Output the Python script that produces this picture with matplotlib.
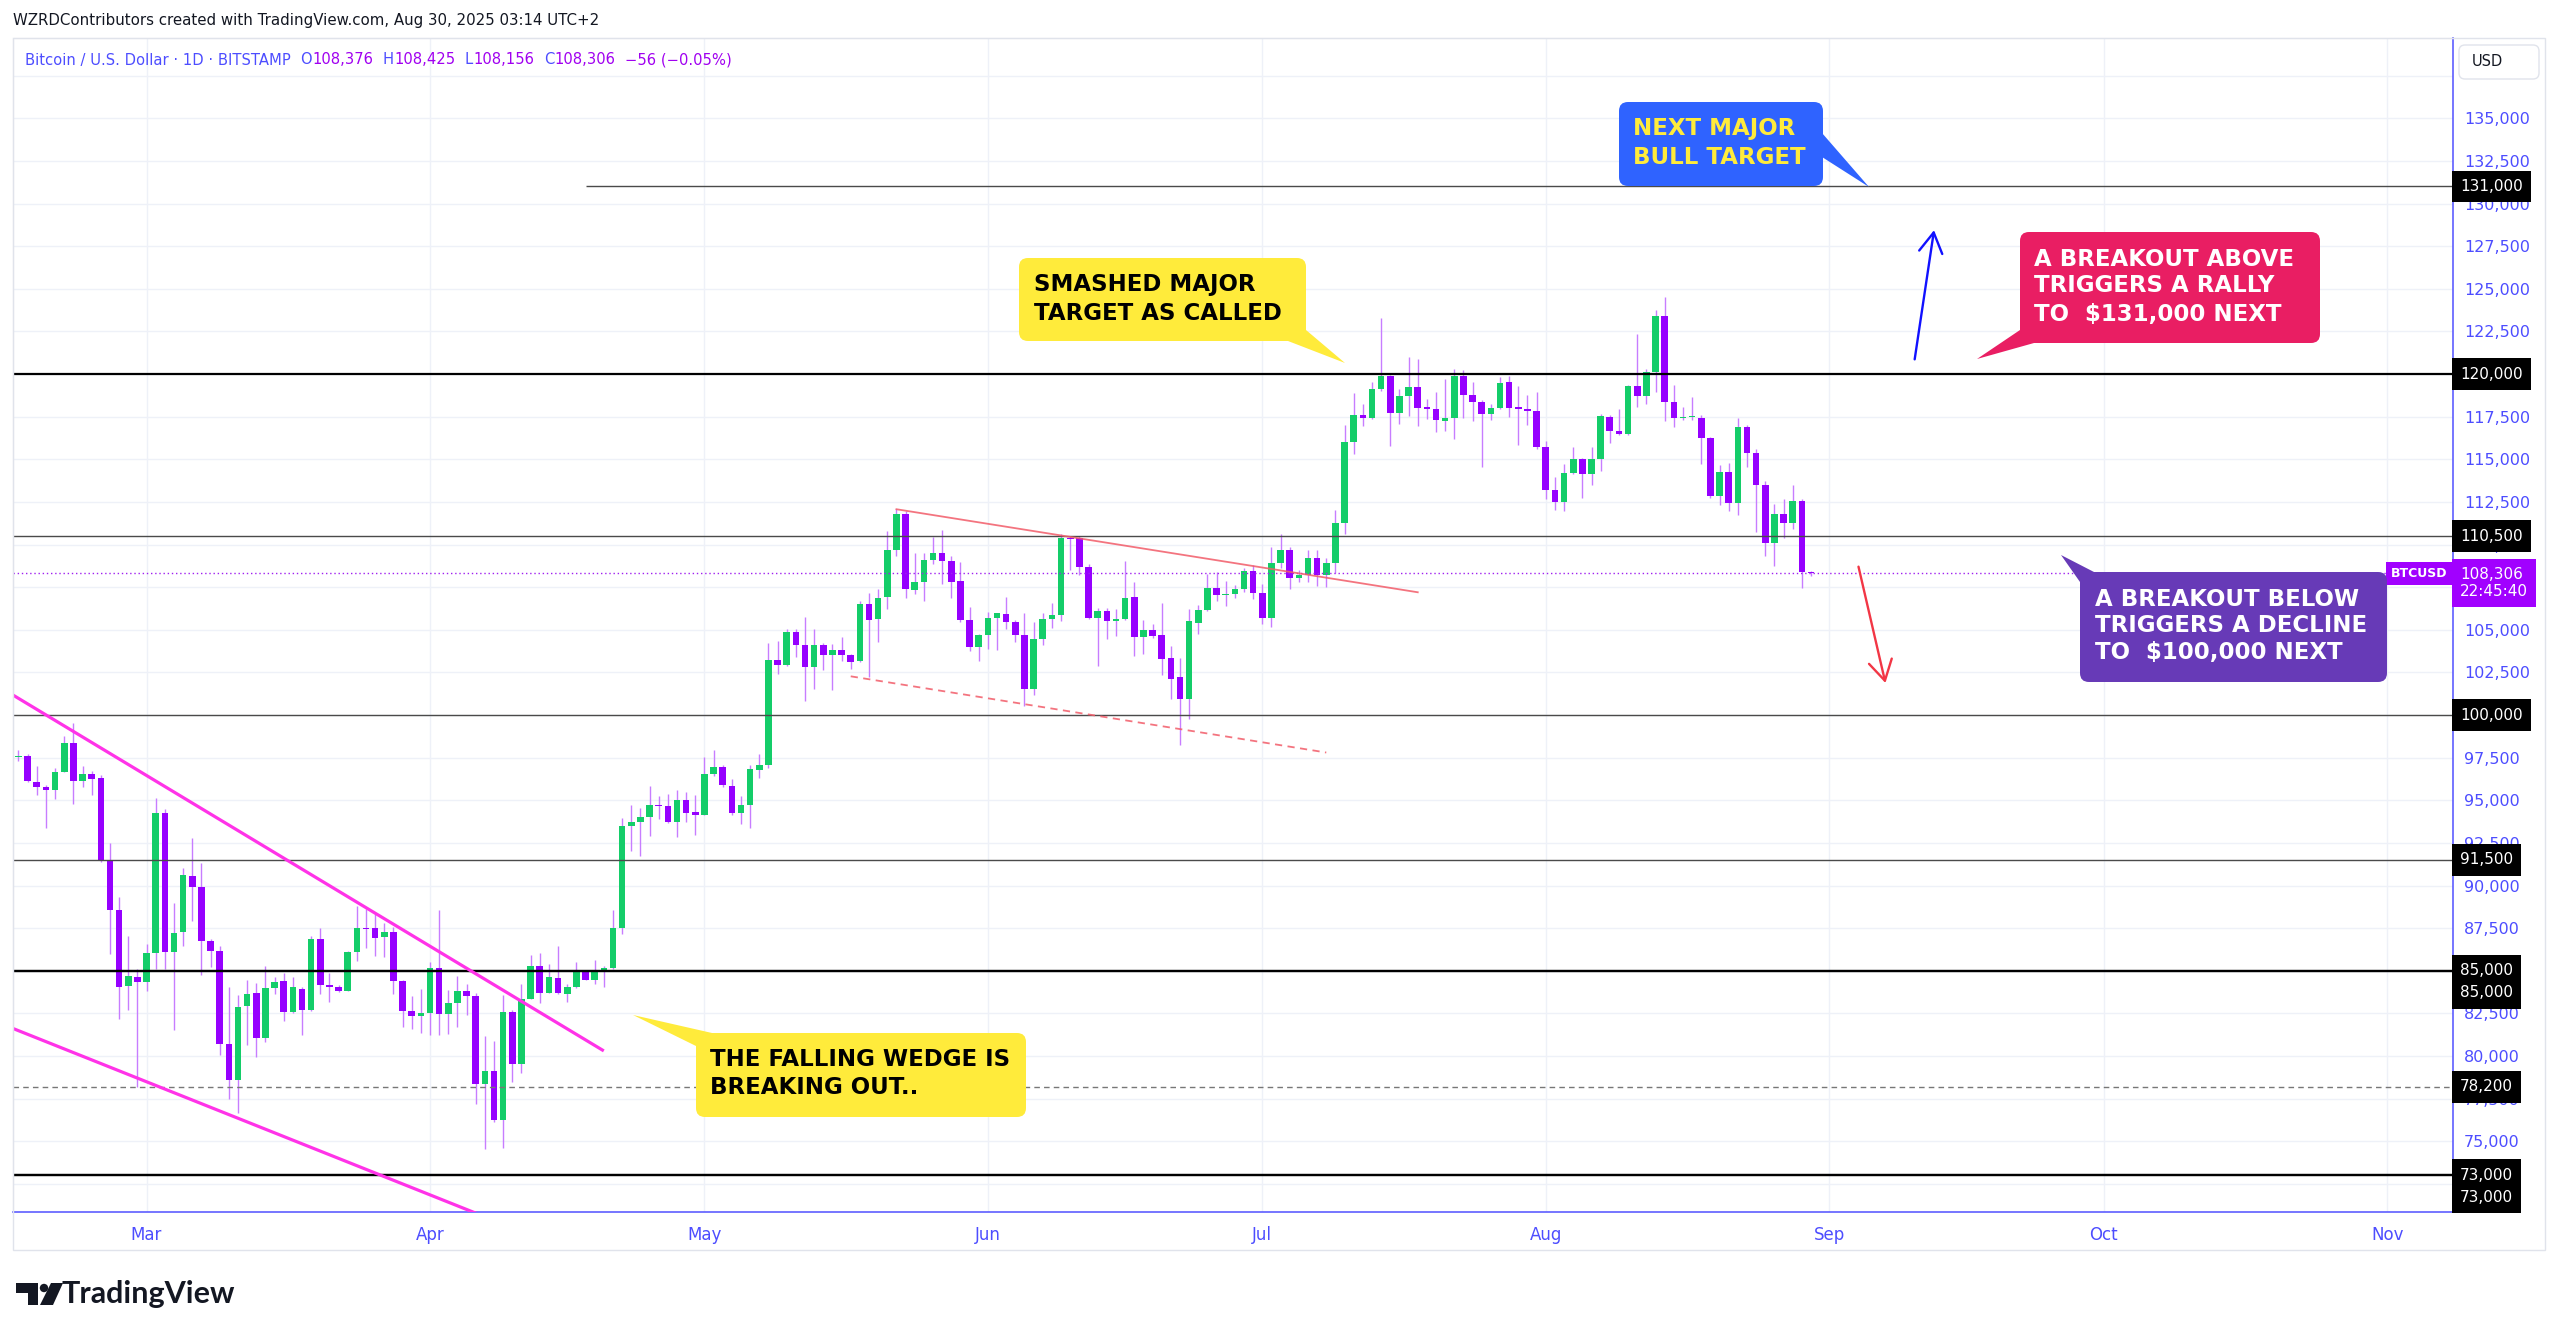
import numpy as np
import pandas as pd
import matplotlib
matplotlib.use("Agg")
import matplotlib.pyplot as plt
import matplotlib.dates as mdates
from matplotlib.patches import FancyBboxPatch, Polygon, Rectangle, Circle

# ---- daily BTCUSD candles, 2025-02-15 .. 2025-08-30 ----
start_date = "2025-02-15"

opens = [
    97520, 97580, 96080, 95790, 95610, 96670, 98360, 96120, 96550, 96300, 91500, 88580, 84130, 84620,
    84330, 86020, 94250, 86120, 87270, 90580, 89940, 86730, 86180, 80720, 78620, 82940, 83680, 81070, 84000, 84390,
    82570, 83940, 82670, 86860, 84190, 84070, 83840, 86080, 87510, 87500, 86960, 87250, 84390, 82630, 82340,
    82520, 85140, 82480, 83130, 83820, 83500, 78370, 79130, 76250, 82590, 79560, 83350, 85250, 83710, 84600,
    83630, 84040, 84900, 84470, 85030, 85180, 87500, 93470, 93730, 94010, 94740, 94660, 93730, 95030, 94310,
    94160, 96540, 96930, 95850, 94270, 94700, 96790, 97040, 103250, 102960, 104860, 104130, 102800, 104130, 103510,
    103800, 103510, 103150, 106540, 105640, 106920, 109700, 111770, 107310, 107820, 109090, 109520, 109030, 107860,
    105600, 104000,
    104680, 105700, 105900, 105450, 104720, 101530, 104430, 105640, 105860, 110360, 110360, 108700, 105700, 106090,
    105500, 105640, 106920, 104560, 104960, 104680, 103350, 102210, 100960, 105410, 106150, 107460, 107030, 107110,
    107370, 108440,
    107170, 105700, 108910, 109700, 108010, 108240, 109220, 108240, 108930, 111280, 116010, 117610, 117420, 119140,
    119860, 117730, 118710, 119260, 118060, 117970, 117220, 117440, 119880, 118790, 118360, 117630, 118010, 119510,
    118060, 117970, 117810,
    115720, 113170, 112490, 114210, 115030, 114110, 115030, 117480, 116680, 116480, 119300, 118710, 120120, 123380,
    118360, 117420, 117460, 117440, 116260, 112840, 114250, 112430, 116890, 115380, 113470, 110100, 111770, 111260,
    112550, 108376,
]
highs = [
    97970, 97720, 97000, 95920, 96900, 98750, 99530, 97000, 96700, 96470, 92510, 89300, 87020, 85110,
    86570, 95150, 94460, 88950, 91050, 92810, 91310, 86860, 86470, 84040, 83590, 84430, 84290, 85300, 84660, 84870,
    84620, 84040, 87060, 87490, 84870, 84170, 86180, 88770, 88620, 88320, 87780, 87540, 84430, 83490, 83940,
    85510, 88540, 83890, 84710, 84210, 83670, 81180, 80860, 83560, 82700, 84250, 85940, 86050, 85400, 86480,
    84250, 85510, 85030, 85620, 85250, 88540, 93940, 94700, 94550, 95850, 95240, 95390, 95630, 95460, 95310,
    97510, 97950, 97080, 96220, 95240, 97080, 97710, 104230, 104370, 105050, 105020, 105740, 105020, 104230, 104190,
    104560, 103550, 106680, 107170, 107410, 110790, 112070, 111970, 109520, 109520, 110460, 110850, 109330, 108990,
    106330, 104760,
    106050, 106010, 106920, 105600, 106000, 105450, 106000, 106580, 110600, 110500, 110500, 108840, 106250, 106290,
    106190, 109030, 107800, 105560, 105310, 106580, 104040, 103350, 106190, 106450, 108290, 108400, 107860, 107600,
    108600, 108800,
    107660, 109850, 110600, 109850, 108480, 109650, 109650, 109200, 112000, 117030, 118900, 118260, 119530, 123290,
    119960, 119140, 121000, 120900, 118550, 118940, 119690, 120310, 120220, 119530, 118460, 118260, 119820, 119880,
    119280, 118790, 118940,
    116070, 113960, 114740, 115720, 115100, 115720, 117670, 117610, 117970, 119340, 122370, 120310, 123740, 124520,
    119370, 118060, 118650, 117570, 116300, 114640, 114800, 117440, 117030, 115620, 113700, 112390, 112690, 113470,
    112690, 108425,
]
lows = [
    97290, 96080, 95280, 93350, 95050, 96630, 94810, 95770, 95280, 91400, 85980, 82180, 82670, 78190,
    83840, 85110, 85110, 81500, 86430, 87890, 84780, 85240, 80040, 77470, 76670, 80630, 79940, 80820, 83650, 82050,
    82520, 81210, 82630, 83650, 83160, 83740, 83800, 85590, 86340, 85890, 85830, 83610, 81700, 81600, 81370,
    81250, 81250, 81290, 81680, 82420, 77180, 74520, 76100, 74630, 78480, 79030, 83350, 83130, 83670, 83630,
    83170, 83990, 84430, 84250, 84040, 85080, 87130, 92000, 91740, 92910, 93900, 93680, 92860, 93730, 92970,
    94160, 96430, 95780, 94160, 93580, 93400, 96300, 96890, 102410, 102900, 103390, 100800, 101530, 102660, 101490,
    103150, 102720, 103120, 102210, 104270, 106190, 109330, 106880, 107070, 106680, 108870, 107660, 106880, 105470,
    103740, 103190,
    103900, 103840, 105020, 104290, 100510, 101200, 104090, 105110, 105500, 108480, 108210, 105660, 102860, 104430,
    104620, 105560, 103450, 103550, 104530, 102330, 100960, 98260, 99780, 104780, 106090, 106680, 106390, 106880,
    107230, 106780,
    105310, 105150, 108640, 107370, 107790, 107790, 107540, 107500, 108340, 110630, 115290, 116950, 117380, 118980,
    115780, 117090, 117540, 116950, 117340, 116600, 116640, 116200, 117420, 117220, 114540, 117280, 117930, 117480,
    115810, 116990, 115580,
    112690, 112000, 111940, 114150, 112720, 113470, 114290, 115970, 116400, 116440, 118060, 118260, 118940, 117220,
    116890, 117320, 117320, 114700, 112740, 112330, 111940, 111710, 114540, 110730, 109300, 108730, 110380, 110890,
    107440, 108156,
]
closes = [
    97560, 96120, 95770, 95610, 96670, 98360, 96120, 96550, 96260, 91500, 88580, 84040, 84680, 84330,
    86020, 94250, 86120, 87230, 90620, 89900, 86730, 86180, 80720, 78580, 82870, 83650, 81070, 84000, 84330, 82570,
    84070, 82710, 86860, 84170, 84040, 83800, 86080, 87510, 87450, 86900, 87250, 84390, 82650, 82340, 82520,
    85140, 82480, 83130, 83820, 83500, 78370, 79130, 76250, 82590, 79560, 83350, 85250, 83710, 84640, 83670,
    84040, 84900, 84470, 85030, 85180, 87500, 93470, 93730, 94010, 94740, 94660, 93730, 95030, 94270, 94160,
    96540, 96930, 95890, 94270, 94740, 96860, 97040, 103250, 102960, 104860, 104130, 102800, 104130, 103510, 103800,
    103510, 103120, 106540, 105600, 106880, 109700, 111770, 107370, 107820, 109090, 109520, 109030, 107800, 105600,
    104000, 104680,
    105700, 105980, 105450, 104720, 101530, 104430, 105640, 105860, 110360, 110300, 108700, 105700, 106090, 105500,
    105640, 106880, 104560, 104960, 104660, 103290, 102140, 100960, 105500, 106150, 107460, 107030, 107110, 107370,
    108440, 107170,
    105700, 108910, 109700, 108010, 108240, 109220, 108240, 108930, 111280, 116010, 117610, 117420, 119140, 119860,
    117730, 118710, 119260, 118020, 117930, 117280, 117440, 119880, 118790, 118360, 117630, 118010, 119470, 118020,
    117930, 117810, 115720,
    113170, 112490, 114210, 115030, 114110, 115030, 117520, 116680, 116480, 119300, 118710, 120120, 123380, 118360,
    117420, 117460, 117500, 116260, 112840, 114250, 112430, 116890, 115380, 113470, 110100, 111770, 111260, 112550,
    108376, 108306,
]

# horizontal levels drawn on the chart (85k and 73k are drawn twice)
level_prices = [131000, 120000, 110500, 100000, 91500, 85000, 85000, 78200, 73000, 73000]
level_kinds = ["thin", "thick", "thin", "thin", "thin", "thick", "thick", "dashed", "thick", "thick"]
level_starts = ["2025-04-18", None, None, None, None, None, None, None, None, None]

# trend drawings: (date, price) endpoints
wedge_upper = [("2025-02-14", 101300), ("2025-04-20", 80300)]
wedge_lower = [("2025-02-14", 81700), ("2025-04-12", 69500)]
channel_top = [("2025-05-22", 112070), ("2025-07-18", 107200)]
channel_bottom = [("2025-05-17", 102270), ("2025-07-08", 97800)]
arrow_up = [("2025-09-10 07:00", 120700), ("2025-09-12 12:00", 128600)]
arrow_down = [("2025-09-04 03:00", 108860), ("2025-09-07 05:00", 101720)]

month_labels = ["Mar", "Apr", "May", "Jun", "Jul", "Aug", "Sep", "Oct", "Nov"]
last_time = "22:45:40"

GREEN = "#14cd69"
PURPLE = "#9600ff"
WICK = "#c77dff"
AXBLUE = "#4d4dff"
GRID = "#eef1f8"

assert len(opens) == len(highs) == len(lows) == len(closes) == 197


def dnum(s):
    return mdates.date2num(pd.Timestamp(s))


W, H = 2560, 1336
fig = plt.figure(figsize=(W / 100, H / 100), dpi=100)
fig.patch.set_facecolor("white")

L_, R_, T_, B_ = 13, 2453, 38, 1212
ax = fig.add_axes([L_ / W, 1 - B_ / H, (R_ - L_) / W, (B_ - T_) / H])
mar1 = dnum("2025-03-01")
ax.set_xlim(mar1 - 14.6, mar1 + 252.2)
ax.set_ylim(70850, 139710)

# grid + axes
yt = np.arange(72500, 137501, 2500)
ax.set_yticks(yt)
ax.set_yticklabels([f"{v:,}" if v <= 135000 else "" for v in yt])
ax.yaxis.tick_right()
months = mdates.date2num(pd.date_range("2025-03-01", periods=len(month_labels), freq="MS"))
ax.set_xticks(months)
ax.set_xticklabels(month_labels)
ax.tick_params(axis="y", length=0, pad=8, labelcolor=AXBLUE, labelsize=11.5)
ax.tick_params(axis="x", length=0, pad=10, labelcolor=AXBLUE, labelsize=12)
ax.grid(True, color=GRID, lw=1.0)
for s in ("left", "top"):
    ax.spines[s].set_color("#e0e3eb")
for s in ("right", "bottom"):
    ax.spines[s].set_color("#5d5dff")
    ax.spines[s].set_linewidth(1.2)

# candles
days = mdates.date2num(pd.date_range(start_date, periods=len(opens), freq="D"))
o, h, l, c = map(np.array, (opens, highs, lows, closes))
up = c >= o
body_lo = np.minimum(o, c)
body_h = np.maximum(np.abs(c - o), 70)
ax.vlines(days, l, h, color=WICK, lw=1.0, zorder=3)
ax.bar(days[up], body_h[up], bottom=body_lo[up], width=0.72, color=GREEN, lw=0, zorder=3.2)
ax.bar(days[~up], body_h[~up], bottom=body_lo[~up], width=0.72, color=PURPLE, lw=0, zorder=3.2)

# levels
x_right = ax.get_xlim()[1]
styles = {
    "thin": dict(color="#4a4a4a", lw=1.0, ls="-"),
    "thick": dict(color="#000000", lw=1.6, ls="-"),
    "dashed": dict(color="#777777", lw=1.0, ls=(0, (4, 3))),
}
prev = None
for price, kind, st in zip(level_prices, level_kinds, level_starts):
    x_start = dnum(st) if st else ax.get_xlim()[0]
    ax.hlines(price, x_start, x_right, zorder=4, **styles[kind])
    dy = -16 if price == prev else 0
    ax.annotate(f"{price:,}", xy=(1, price), xycoords=("axes fraction", "data"),
                xytext=(5, dy), textcoords="offset points", ha="left", va="center",
                fontsize=11, color="white", zorder=6,
                bbox=dict(boxstyle="square,pad=0.55", fc="black", ec="none"))
    prev = price

# current price
last = closes[-1]
ax.axhline(last, color="#a020f0", lw=1.0, ls=(0, (1, 2)), zorder=4)
ax.annotate(f"{last:,}\n{last_time}", xy=(1, last), xycoords=("axes fraction", "data"),
            xytext=(5, -7), textcoords="offset points", ha="left", va="center",
            fontsize=11, color="white", linespacing=1.2, zorder=7,
            bbox=dict(boxstyle="square,pad=0.5", fc="#a100ff", ec="none"))
ax.annotate("BTCUSD", xy=(1, last), xycoords=("axes fraction", "data"),
            xytext=(-4, 0), textcoords="offset points", ha="right", va="center",
            fontsize=9, fontweight="bold", color="white", zorder=7,
            bbox=dict(boxstyle="square,pad=0.4", fc="#a100ff", ec="none"))

# drawings
def seg(pts):
    return [dnum(d) for d, _ in pts], [p for _, p in pts]

for pts in (wedge_upper, wedge_lower):
    xs, ys = seg(pts)
    ax.plot(xs, ys, color="#ff33e8", lw=2.3, zorder=5, solid_capstyle="butt")
xs, ys = seg(channel_top)
ax.plot(xs, ys, color="#f25c69", lw=1.3, alpha=0.85, zorder=5)
xs, ys = seg(channel_bottom)
ax.plot(xs, ys, color="#f25c69", lw=1.3, alpha=0.85, ls=(0, (4, 3)), zorder=5)

for pts, col in ((arrow_up, "#1111ff"), (arrow_down, "#f23645")):
    xs, ys = seg(pts)
    ax.annotate("", xy=(xs[1], ys[1]), xytext=(xs[0], ys[0]),
                arrowprops=dict(arrowstyle="->,head_length=0.6,head_width=0.35",
                                color=col, lw=1.7, mutation_scale=24), zorder=6)

# ---- overlay in pixel coordinates ----
ov = fig.add_axes([0, 0, 1, 1], zorder=10)
ov.set_xlim(0, W)
ov.set_ylim(H, 0)
ov.set_axis_off()

ov.add_patch(Rectangle((13, 38), 2545 - 13, 1250 - 38, fill=False, ec="#e0e3eb", lw=1))
ov.text(13, 20, "WZRDContributors created with TradingView.com, Aug 30, 2025 03:14 UTC+2",
        fontsize=10.8, color="#131722", va="center", ha="left")

# legend line
pieces = [("Bitcoin / U.S. Dollar · 1D · BITSTAMP", AXBLUE, 0),
          ("O", AXBLUE, 7), (f"{opens[-1]:,}", "#a000f0", 0),
          ("H", AXBLUE, 7), (f"{highs[-1]:,}", "#a000f0", 0),
          ("L", AXBLUE, 7), (f"{lows[-1]:,}", "#a000f0", 0),
          ("C", AXBLUE, 7), (f"{closes[-1]:,}", "#a000f0", 0),
          ("\u221256 (\u22120.05%)", "#a000f0", 7)]
t = ov.text(25, 60, pieces[0][0], color=pieces[0][1], fontsize=10.6, va="center", ha="left")
for txt, col, gap in pieces[1:]:
    t = ov.annotate(txt, xy=(1, 0.5), xycoords=t, xytext=(gap, 0), textcoords="offset points",
                    color=col, fontsize=10.6, va="center", ha="left")

# USD button
ov.add_patch(FancyBboxPatch((2459, 45), 80, 34, boxstyle="round,pad=0,rounding_size=6",
                            fc="white", ec="#e0e3eb", lw=1))
ov.text(2472, 62, "USD", fontsize=10.5, color="#131722", va="center", ha="left")


def callout(box, tail, lines, ys, xt, fc, tc):
    x0, y0, x1, y1 = box
    ov.add_patch(FancyBboxPatch((x0, y0), x1 - x0, y1 - y0,
                                boxstyle="round,pad=0,rounding_size=9", fc=fc, ec="none"))
    ov.add_patch(Polygon(tail, closed=True, fc=fc, ec="none"))
    for s, y in zip(lines, ys):
        ov.text(xt, y, s, color=tc, fontsize=16.5, fontweight="bold", va="center", ha="left")


callout((1019, 258, 1306, 341), [(1288, 341), (1306, 330), (1345, 363)],
        ["SMASHED MAJOR", "TARGET AS CALLED"], [285, 313], 1034, "#ffeb3b", "black")
callout((696, 1033, 1026, 1117), [(712, 1033), (696, 1046), (633, 1015)],
        ["THE FALLING WEDGE IS", "BREAKING OUT.."], [1060, 1088], 710, "#ffeb3b", "black")
callout((1619, 102, 1823, 186), [(1822, 133), (1822, 157), (1869, 187)],
        ["NEXT MAJOR", "BULL TARGET"], [129, 157], 1633, "#2f63ff", "#ffeb3b")
callout((2020, 232, 2320, 343), [(2020, 330), (2034, 343), (1977, 359)],
        ["A BREAKOUT ABOVE", "TRIGGERS A RALLY", "TO  $131,000 NEXT"], [259, 286, 314],
        2034, "#e91e63", "white")
callout((2080, 572, 2387, 682), [(2080, 582), (2094, 572), (2061, 555)],
        ["A BREAKOUT BELOW", "TRIGGERS A DECLINE", "TO  $100,000 NEXT"], [599, 626, 653],
        2095, "#673ab7", "white")

# TradingView logo
ov.add_patch(Polygon([(16, 1283), (38, 1283), (38, 1305), (28, 1305), (28, 1293), (16, 1293)],
                     closed=True, fc="#131722", ec="none"))
ov.add_patch(Circle((44, 1288), 4.2, fc="#131722", ec="none"))
ov.add_patch(Polygon([(51, 1283), (63, 1283), (53, 1305), (40, 1305)], closed=True, fc="#131722", ec="none"))
ov.text(62, 1294, "TradingView", fontsize=22, fontweight="bold", family="Lato", color="#131722",
        va="center", ha="left")

fig.savefig("out.png", dpi=100, facecolor="white")
